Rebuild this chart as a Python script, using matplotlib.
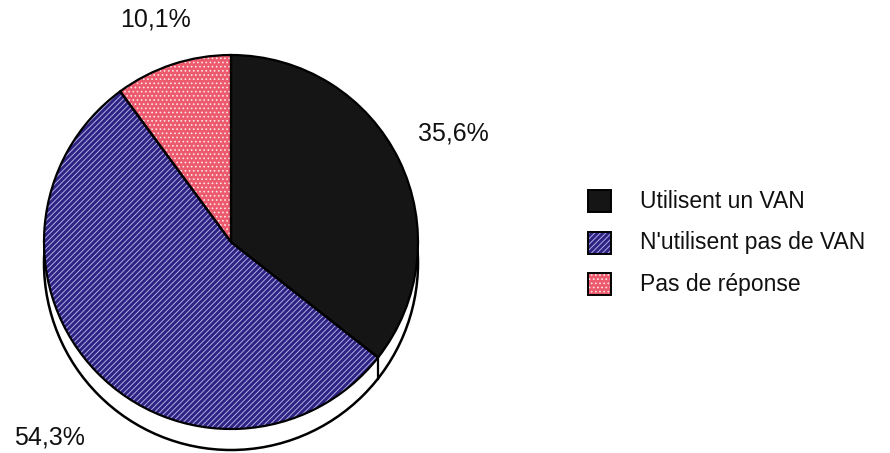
import numpy as np
import matplotlib
matplotlib.use("Agg")
import matplotlib.pyplot as plt
from matplotlib.patches import Circle, Rectangle

labels = ["Utilisent un VAN", "N'utilisent pas de VAN", "Pas de réponse"]
values = [35.6, 54.3, 10.1]
value_labels = ["35,6%", "54,3%", "10,1%"]

plt.rcParams['font.family'] = ['Liberation Sans', 'DejaVu Sans']
plt.rcParams['hatch.linewidth'] = 0.7

W, H = 890, 453
fig = plt.figure(figsize=(W / 100, H / 100), dpi=100)
ax = fig.add_axes([0, 0, 1, 1])

cx, cy, r = 231, H - 242, 187
depth = 21

faces = ['#151515', '#2c2382', '#ec5a6e']
hatch_cols = ['#151515', '#b4aae6', '#fde4e8']
hatches = [None, '//////', '....']

# 3D side / shadow
ax.add_patch(Circle((cx, cy - depth), r, facecolor='white', edgecolor='black', lw=1.8, zorder=1))

wedges, _ = ax.pie(values, center=(cx, cy), radius=r, startangle=90, counterclock=False,
                   colors=faces, wedgeprops=dict(linewidth=0), frame=True)
for w, h, hc in zip(wedges, hatches, hatch_cols):
    w.set_zorder(2)
    w.set_edgecolor(hc)
    if h:
        w.set_hatch(h)
# outlines
wedges2, _ = ax.pie(values, center=(cx, cy), radius=r, startangle=90, counterclock=False,
                    wedgeprops=dict(fill=False, edgecolor='black', linewidth=1.6), frame=True)
for w in wedges2:
    w.set_zorder(3)

# side edge line at black/blue boundary
ang = np.deg2rad(90 - values[0] * 3.6)
ex, ey = cx + r * np.cos(ang), cy + r * np.sin(ang)
ax.plot([ex, ex], [ey, ey - depth], color='black', lw=1.6, zorder=3)

# percentage labels
ax.text(453, H - 134, value_labels[0], fontsize=18, ha='center', va='center', color='#111111')
ax.text(49, H - 437, value_labels[1], fontsize=18, ha='center', va='center', color='#111111')
ax.text(155, H - 20, value_labels[2], fontsize=18, ha='center', va='center', color='#111111')

# legend
ys = [201, 243, 284]
for lab, fc, hc, h, y in zip(labels, faces, hatch_cols, hatches, ys):
    ax.add_patch(Rectangle((588, H - y - 11), 23, 22, facecolor=fc, edgecolor=hc,
                           lw=0, hatch=h, zorder=2))
    ax.add_patch(Rectangle((588, H - y - 11), 23, 22, fill=False, edgecolor='black', lw=1.4, zorder=3))
    ax.text(640, H - y, lab, fontsize=16.5, ha='left', va='center', color='#111111')

ax.set_xlim(0, W)
ax.set_ylim(0, H)
ax.set_aspect('auto')
ax.axis('off')
fig.savefig('out.png', dpi=100, facecolor='white')
